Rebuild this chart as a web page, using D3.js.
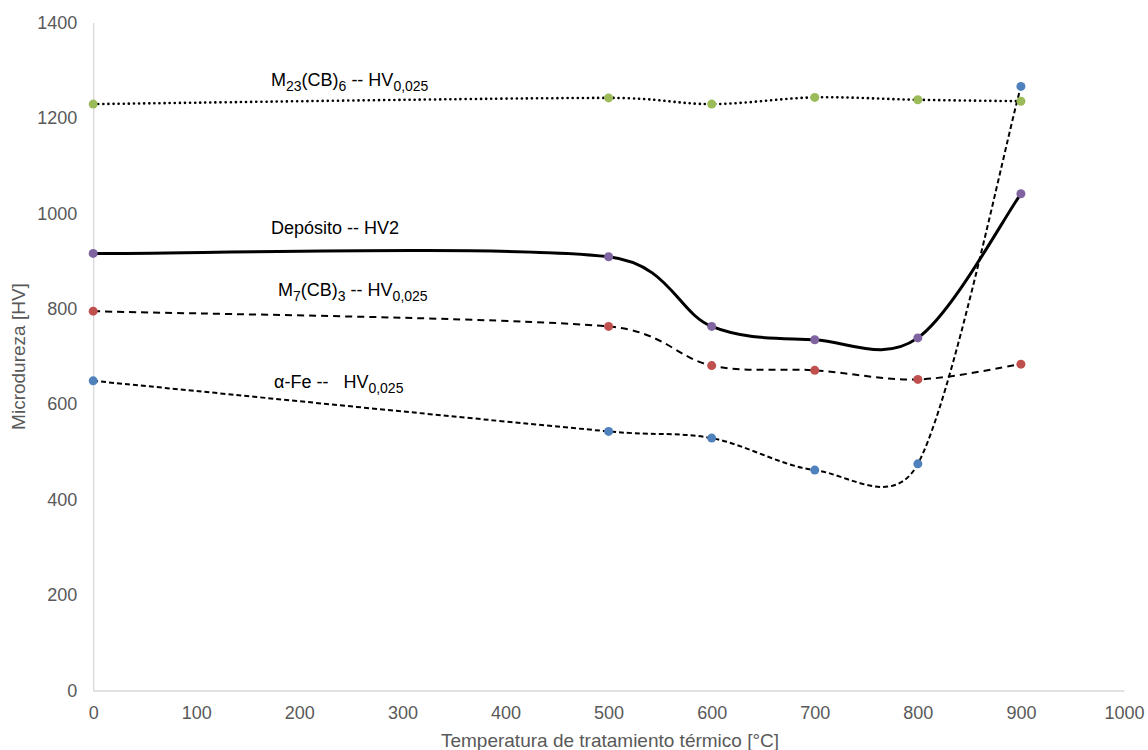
<!DOCTYPE html>
<html>
<head>
<meta charset="utf-8">
<script src="https://cdn.jsdelivr.net/npm/d3@7"></script>
<style>
  body { margin: 0; background: #fff; }
  text { font-family: "Liberation Sans", Arial, sans-serif; }
</style>
</head>
<body>
<div id="chart"></div>
<script>
// Data
const temps = [0, 500, 600, 700, 800, 900];
const m23 = [1229, 1242, 1229, 1243, 1238, 1235];
const deposito = [916, 909, 763, 735, 739, 1041];
const m7 = [795, 763, 681, 671, 652, 684];
const alphaFe = [649, 543, 529, 462, 475, 1266];
const xTicks = [0, 100, 200, 300, 400, 500, 600, 700, 800, 900, 1000];
const yTicks = [0, 200, 400, 600, 800, 1000, 1200, 1400];

const series = [
  { name: "m23", values: m23, color: "#9BBB59", dash: "0.1 5", width: 2.6, cap: "round" },
  { name: "deposito", values: deposito, color: "#8064A2", dash: null, width: 3, cap: "butt" },
  { name: "m7", values: m7, color: "#C0504D", dash: "7 5", width: 2, cap: "butt" },
  { name: "alphaFe", values: alphaFe, color: "#4F81BD", dash: "5 3", width: 2, cap: "butt" }
];

const W = 1148, H = 750;
const svg = d3.select("#chart").append("svg")
  .attr("width", W).attr("height", H);

const x = d3.scaleLinear().domain([0, 1000]).range([93.2, 1124]);
const y = d3.scaleLinear().domain([0, 1400]).range([690.5, 22.5]);

// Axes (light grey lines, no ticks)
const xAxis = svg.append("g")
  .attr("transform", `translate(0,${y(0)})`)
  .call(d3.axisBottom(x).tickValues(xTicks).tickSize(0).tickPadding(16).tickFormat(d3.format("d")));
const yAxis = svg.append("g")
  .attr("transform", `translate(${x(0)},0)`)
  .call(d3.axisLeft(y).tickValues(yTicks).tickSize(0).tickPadding(16).tickFormat(d3.format("d")));

[xAxis, yAxis].forEach(g => {
  g.attr("font-size", 18).attr("font-family", "'Liberation Sans', Arial, sans-serif");
  g.select(".domain").attr("stroke", "#d9d9d9").attr("stroke-width", 1.3);
  g.selectAll("text").attr("fill", "#595959");
});

// Axis titles
svg.append("text")
  .attr("x", 610).attr("y", 747)
  .attr("text-anchor", "middle")
  .attr("fill", "#595959")
  .attr("font-size", 19)
  .text("Temperatura de tratamiento térmico [°C]");

svg.append("text")
  .attr("transform", `translate(25,${(y(0) + y(1400)) / 2}) rotate(-90)`)
  .attr("text-anchor", "middle")
  .attr("fill", "#595959")
  .attr("font-size", 19)
  .text("Microdureza [HV]");

// Spreadsheet-style smoothing: bezier with tangent (P[i+1]-P[i-1])/6,
// each handle kept within half of its segment
function curveSmooth(context) {
  let pts;
  return {
    lineStart() { pts = []; },
    point(px, py) { pts.push([+px, +py]); },
    lineEnd() {
      const n = pts.length;
      if (!n) return;
      const tan = pts.map((p, i) => {
        const a = pts[Math.max(0, i - 1)], b = pts[Math.min(n - 1, i + 1)];
        return [(b[0] - a[0]) / 6, (b[1] - a[1]) / 6];
      });
      const clamp = (t, lim) => {
        const len = Math.hypot(t[0], t[1]);
        const k = len > lim ? lim / len : 1;
        return [t[0] * k, t[1] * k];
      };
      context.moveTo(pts[0][0], pts[0][1]);
      for (let i = 0; i < n - 1; i++) {
        const p0 = pts[i], p1 = pts[i + 1];
        const lim = Math.hypot(p1[0] - p0[0], p1[1] - p0[1]) / 2;
        const t0 = clamp(tan[i], lim), t1 = clamp(tan[i + 1], lim);
        context.bezierCurveTo(p0[0] + t0[0], p0[1] + t0[1],
          p1[0] - t1[0], p1[1] - t1[1], p1[0], p1[1]);
      }
    },
    areaStart() {}, areaEnd() {}
  };
}

const line = d3.line()
  .x((d, i) => x(temps[i]))
  .y(d => y(d))
  .curve(curveSmooth);

svg.selectAll("path.series")
  .data(series)
  .enter().append("path")
  .attr("class", "series")
  .attr("d", d => line(d.values))
  .attr("fill", "none")
  .attr("stroke", "#000")
  .attr("stroke-width", d => d.width)
  .attr("stroke-linecap", d => d.cap)
  .attr("stroke-dasharray", d => d.dash);

// Markers
series.forEach(s => {
  svg.selectAll(null)
    .data(s.values)
    .enter().append("circle")
    .attr("cx", (d, i) => x(temps[i]))
    .attr("cy", d => y(d))
    .attr("r", 4.5)
    .attr("fill", s.color);
});

// Labels with subscripts
function label(xp, yp, parts) {
  const t = svg.append("text")
    .attr("x", xp).attr("y", yp)
    .attr("fill", "#000")
    .attr("font-size", 18)
    .style("white-space", "pre");
  let shifted = 0;
  parts.forEach(p => {
    const dy = p.sub ? 5 - shifted : -shifted;
    shifted = p.sub ? 5 : 0;
    t.append("tspan")
      .attr("dy", dy)
      .attr("font-size", p.sub ? 14 : 18)
      .text(p.t);
  });
}

label(271, 86, [{ t: "M" }, { t: "23", sub: true }, { t: "(CB)" }, { t: "6", sub: true }, { t: " -- HV" }, { t: "0,025", sub: true }]);
label(271, 234, [{ t: "Depósito -- HV2" }]);
label(278, 296, [{ t: "M" }, { t: "7", sub: true }, { t: "(CB)" }, { t: "3", sub: true }, { t: " -- HV" }, { t: "0,025", sub: true }]);
label(274, 388, [{ t: "α-Fe --   HV" }, { t: "0,025", sub: true }]);
</script>
</body>
</html>
